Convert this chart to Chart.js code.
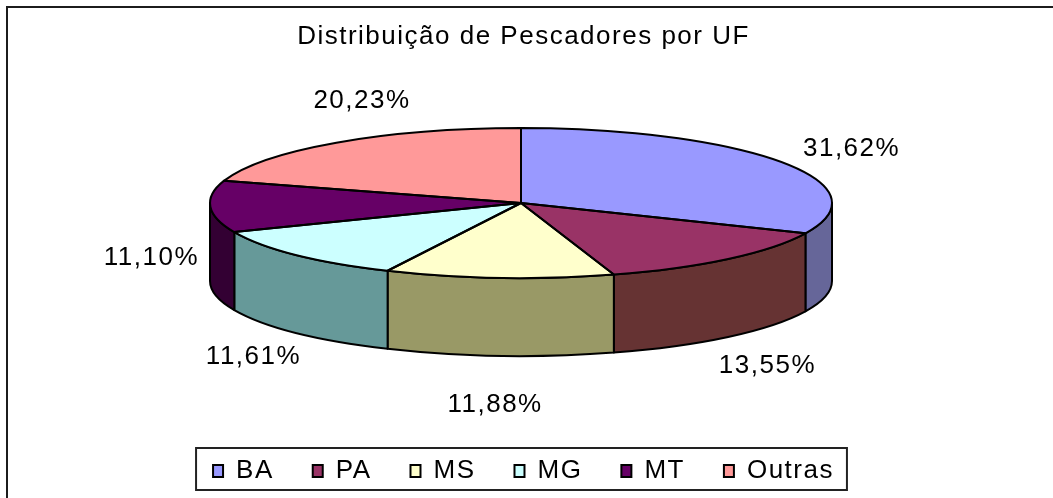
<!DOCTYPE html>
<html lang="pt-BR">
<head>
<meta charset="utf-8">
<title>Distribuição de Pescadores por UF</title>
<script src="https://cdn.jsdelivr.net/npm/chart.js@4.4.1/dist/chart.umd.min.js"></script>
<style>
  html, body { margin: 0; padding: 0; background: #fff; overflow: hidden; }
  #frame { position: absolute; left: 6px; top: 6px; width: 1200px; height: 700px;
           border-top: 2px solid #1c1c1c; border-left: 2px solid #1c1c1c; }
  #wrap { position: absolute; left: 0; top: 0; width: 1053px; height: 498px; }
</style>
</head>
<body>
<div id="frame"></div>
<div id="wrap"><canvas id="chart"></canvas></div>
<script>
const ufLabels = ['BA', 'PA', 'MS', 'MG', 'MT', 'Outras'];
const sharePct = [31.62, 13.55, 11.88, 11.61, 11.10, 20.23];
const topColors = ['#9999ff', '#993366', '#ffffcc', '#ccffff', '#660066', '#ff9999'];
const sideColors = ['#666699', '#663333', '#999966', '#669999', '#330033', '#996666'];

const FONT = "'Liberation Sans', Arial, sans-serif";
const pct = (v) => v.toFixed(2).replace('.', ',') + '%';

// where the flattened pie sits, and how thick it is
const disc = { cx: 521, cy: 203, rx: 311, ry: 75, depth: 78 };
// value labels around it (top half / bottom half)
const lab = { kxTop: 342, shiftTop: 44, kxBot: 370, kyTop: 185, kyBot: 155, drop: 47 };

Chart.defaults.font.family = FONT;
Chart.defaults.color = '#000';

function arcs(chart) {
  return chart.getDatasetMeta(0).data.map((a) =>
    a.getProps(['x', 'y', 'startAngle', 'endAngle', 'outerRadius'], true));
}

function squash(ctx, a) {
  ctx.translate(disc.cx, disc.cy);
  ctx.scale(disc.rx / a.outerRadius, disc.ry / a.outerRadius);
  ctx.translate(-a.x, -a.y);
}

const spacing = {
  id: 'spacing',
  beforeUpdate(chart) { chart.ctx.letterSpacing = '1.5px'; },
  beforeDraw(chart) { chart.ctx.letterSpacing = '1.5px'; }
};

const pie3d = {
  id: 'pie3d',
  beforeDatasetsDraw(chart) {
    const ctx = chart.ctx;
    const list = arcs(chart);
    ctx.save();
    ctx.lineWidth = 2;
    ctx.strokeStyle = '#000';
    ctx.lineJoin = 'round';
    // front walls, only the part facing us (0..PI)
    list.forEach((a, i) => {
      const s = Math.max(a.startAngle, 0);
      const e = Math.min(a.endAngle, Math.PI);
      if (e <= s) return;
      ctx.beginPath();
      ctx.ellipse(disc.cx, disc.cy, disc.rx, disc.ry, 0, s, e);
      ctx.ellipse(disc.cx, disc.cy + disc.depth, disc.rx, disc.ry, 0, e, s, true);
      ctx.closePath();
      ctx.fillStyle = sideColors[i];
      ctx.fill();
      ctx.stroke();
    });
    ctx.restore();
    ctx.save();
    squash(ctx, list[0]);
  },
  afterDatasetsDraw(chart) {
    const ctx = chart.ctx;
    ctx.restore();
    const list = arcs(chart);
    ctx.save();
    ctx.lineWidth = 2;
    ctx.strokeStyle = '#000';
    ctx.lineJoin = 'round';
    list.forEach((a) => {
      ctx.save();
      squash(ctx, a);
      ctx.beginPath();
      ctx.moveTo(a.x, a.y);
      ctx.arc(a.x, a.y, a.outerRadius, a.startAngle, a.endAngle);
      ctx.closePath();
      ctx.restore();
      ctx.stroke();
    });
    ctx.font = '26px ' + FONT;
    ctx.fillStyle = '#000';
    ctx.textAlign = 'center';
    ctx.textBaseline = 'middle';
    list.forEach((a, i) => {
      const mid = (a.startAngle + a.endAngle) / 2;
      const sn = Math.sin(mid);
      const up = sn < 0;
      const x = disc.cx + (up ? lab.shiftTop : 0) + (up ? lab.kxTop : lab.kxBot) * Math.cos(mid);
      const y = disc.cy + lab.drop + (up ? lab.kyTop : lab.kyBot) * sn;
      ctx.fillText(pct(sharePct[i]), x, y);
    });
    ctx.restore();
  }
};

const legendFrame = {
  id: 'legendFrame',
  afterDraw(chart) {
    const boxes = chart.legend.legendHitBoxes;
    if (!boxes.length) return;
    const left = Math.min(...boxes.map((b) => b.left)) - 17;
    const right = Math.max(...boxes.map((b) => b.left + b.width)) + 13;
    const top = boxes[0].top - 10;
    const bottom = boxes[0].top + boxes[0].height + 6;
    const ctx = chart.ctx;
    ctx.save();
    ctx.lineWidth = 2;
    ctx.strokeStyle = '#222';
    ctx.strokeRect(left, top, right - left, bottom - top);
    ctx.restore();
  }
};

new Chart(document.getElementById('chart'), {
  type: 'pie',
  data: {
    labels: ufLabels,
    datasets: [{ data: sharePct, backgroundColor: topColors, borderWidth: 0, clip: false }]
  },
  options: {
    responsive: true,
    maintainAspectRatio: false,
    animation: false,
    events: [],
    layout: { padding: { left: 0, right: 6, top: 0, bottom: 4 } },
    plugins: {
      title: {
        display: true,
        text: 'Distribuição de Pescadores por UF',
        font: { size: 26, weight: 'normal' },
        padding: { top: 21, bottom: 10 }
      },
      legend: {
        position: 'bottom',
        labels: {
          boxWidth: 10,
          boxHeight: 12,
          padding: 39,
          font: { size: 26 },
          generateLabels: () => ufLabels.map((t, i) => ({
            text: t, fillStyle: topColors[i], strokeStyle: '#000',
            lineWidth: 2, hidden: false, index: i, datasetIndex: 0
          }))
        }
      },
      tooltip: { enabled: false }
    }
  },
  plugins: [spacing, pie3d, legendFrame]
});
</script>
</body>
</html>
